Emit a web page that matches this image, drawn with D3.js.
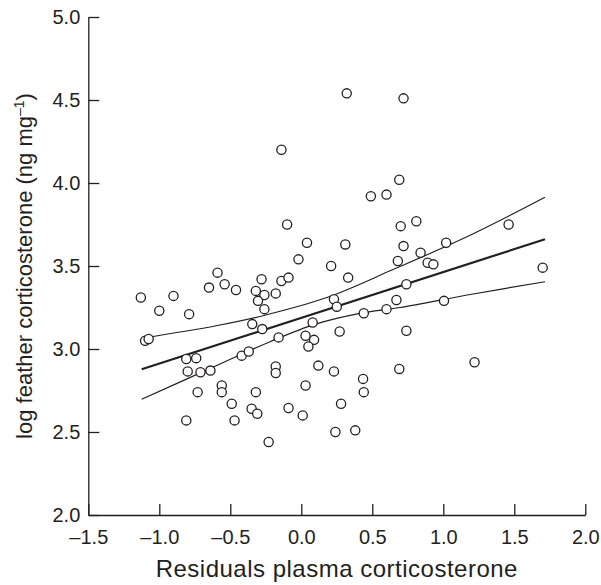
<!DOCTYPE html>
<html>
<head>
<meta charset="utf-8">
<title>Feather corticosterone</title>
<script src="https://cdn.jsdelivr.net/npm/d3@7"></script>
<style>
  body { margin: 0; background: #fff; }
  text { font-family: "Liberation Sans", Arial, Helvetica, sans-serif; fill: #231f20; }
</style>
</head>
<body>
<svg id="chart"></svg>
<script>
// residual plasma corticosterone (x) vs log feather corticosterone (y)
var residX = [-0.14, -0.10, 0.04, -0.02, -0.59, 0.21, 0.32, 0.72, 0.69, 0.49,
              0.60, 0.70, 0.81, 1.46, 0.31, 0.72, 1.02, 0.84, 0.68, 0.89,
              0.93, 1.70, 0.33, -0.28, -0.14, -0.09, -1.13, -0.90, -0.65, -0.54,
              -0.46, -0.32, -0.26, -0.305, -0.18, -1.00, -0.79, -0.26, -0.345, -0.275,
              -1.10, -1.075, -0.16, 0.08, 0.03, 0.09, 0.05, -0.81, -0.74, -0.42,
              -0.37, -0.80, -0.71, -0.64, -0.18, -0.18, 0.12, -0.56, -0.56, -0.73,
              -0.32, 0.03, -0.49, -0.35, -0.31, -0.09, 0.01, -0.81, -0.47, -0.23,
              0.74, 0.23, 0.25, 0.67, 0.60, 0.44, 1.005, 0.27, 0.74, 1.22,
              0.23, 0.435, 0.69, 0.44, 0.28, 0.24, 0.38];
var logFeather = [4.20, 3.75, 3.64, 3.54, 3.46, 3.50, 4.54, 4.51, 4.02, 3.92,
                  3.93, 3.74, 3.77, 3.75, 3.63, 3.62, 3.64, 3.58, 3.53, 3.52,
                  3.51, 3.49, 3.43, 3.42, 3.41, 3.43, 3.31, 3.32, 3.37, 3.39,
                  3.355, 3.35, 3.325, 3.29, 3.335, 3.23, 3.21, 3.24, 3.15, 3.12,
                  3.05, 3.06, 3.07, 3.16, 3.08, 3.055, 3.015, 2.94, 2.945, 2.96,
                  2.985, 2.865, 2.86, 2.87, 2.895, 2.855, 2.90, 2.78, 2.74, 2.74,
                  2.74, 2.78, 2.67, 2.64, 2.61, 2.645, 2.60, 2.57, 2.57, 2.44,
                  3.39, 3.30, 3.255, 3.295, 3.24, 3.215, 3.29, 3.105, 3.11, 2.92,
                  2.865, 2.82, 2.88, 2.74, 2.67, 2.50, 2.51];

// fitted line and confidence limits
var fitX = [-1.124, 1.716];
var fitY = [2.878, 3.661];
var upperX = [-1.12, -0.6, -0.25, 0.18, 0.65, 1.2, 1.716];
var upperY = [3.065, 3.14, 3.205, 3.31, 3.48, 3.69, 3.914];
var lowerX = [-1.124, -0.6, -0.22, 0.1, 0.413, 0.695, 1.2, 1.716];
var lowerY = [2.697, 2.899, 3.044, 3.15, 3.215, 3.25, 3.33, 3.405];

var xTicks = [-1.5, -1.0, -0.5, 0.0, 0.5, 1.0, 1.5, 2.0];
var yTicks = [2.0, 2.5, 3.0, 3.5, 4.0, 4.5, 5.0];

var WIDTH = 601, HEIGHT = 585;
var INK = "#231f20";

var svg = d3.select("#chart").attr("width", WIDTH).attr("height", HEIGHT);

var x = d3.scaleLinear().domain([-1.5, 2.0]).range([88.3, 585.3]);
var y = d3.scaleLinear().domain([2.0, 5.0]).range([515, 17]);

function fmt(d) {
    return (d < 0 ? "\u2013" : "") + Math.abs(d).toFixed(1);
}

// axes, ticks pointing inward
var xAxis = svg.append("g")
    .attr("transform", "translate(0," + y(2.0) + ")")
    .call(d3.axisBottom(x).tickValues(xTicks).tickFormat(fmt)
        .tickSizeInner(-11).tickSizeOuter(0).tickPadding(15));
var yAxis = svg.append("g")
    .attr("transform", "translate(" + x(-1.5) + ",0)")
    .call(d3.axisLeft(y).tickValues(yTicks).tickFormat(fmt)
        .tickSizeInner(-11).tickSizeOuter(0).tickPadding(8));

[xAxis, yAxis].forEach(function(g) {
    g.select(".domain").attr("stroke", INK).attr("stroke-width", 1.3);
    g.selectAll(".tick line").attr("stroke", INK).attr("stroke-width", 1.3);
    g.selectAll(".tick text").attr("fill", INK)
        .attr("font-size", "20px")
        .attr("font-family", "'Liberation Sans', Arial, sans-serif");
});

// regression lines
var line = d3.line().x(function(d) { return x(d[0]); }).y(function(d) { return y(d[1]); });
var curve = d3.line().curve(d3.curveCatmullRom.alpha(0.5))
    .x(function(d) { return x(d[0]); }).y(function(d) { return y(d[1]); });

svg.append("path")
    .attr("d", curve(d3.zip(upperX, upperY)))
    .attr("fill", "none").attr("stroke", INK).attr("stroke-width", 1.2);
svg.append("path")
    .attr("d", curve(d3.zip(lowerX, lowerY)))
    .attr("fill", "none").attr("stroke", INK).attr("stroke-width", 1.2);
svg.append("path")
    .attr("d", line(d3.zip(fitX, fitY)))
    .attr("fill", "none").attr("stroke", INK).attr("stroke-width", 2.2);

// points
svg.append("g").selectAll("circle")
    .data(d3.zip(residX, logFeather))
    .enter()
    .append("circle")
    .attr("cx", function(d) { return x(d[0]); })
    .attr("cy", function(d) { return y(d[1]); })
    .attr("r", 4.6)
    .attr("fill", "#fff")
    .attr("stroke", INK)
    .attr("stroke-width", 1.3);

// axis titles
svg.append("text")
    .attr("x", (x(-1.5) + x(2.0)) / 2)
    .attr("y", 577)
    .attr("text-anchor", "middle")
    .attr("font-size", "24px")
    .attr("letter-spacing", "0.5px")
    .text("Residuals plasma corticosterone");

var yTitle = svg.append("text")
    .attr("transform", "translate(32," + (y(2.0) + y(5.0)) / 2 + ") rotate(-90)")
    .attr("text-anchor", "middle")
    .attr("font-size", "22px");
yTitle.append("tspan").text("log feather corticosterone (ng mg");
yTitle.append("tspan").attr("font-size", "14px").attr("dy", "-8").text("\u20131");
yTitle.append("tspan").attr("dy", "8").text(")");
</script>
</body>
</html>
